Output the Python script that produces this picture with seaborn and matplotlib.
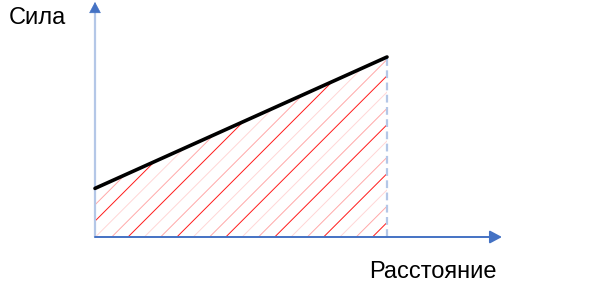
import numpy as np
import matplotlib
matplotlib.use("Agg")
import matplotlib.pyplot as plt
from matplotlib.patches import Polygon
import seaborn as sns

# ---- data ----
distance = [0, 10]
force = [2.7, 10]
x_label = "Расстояние"
y_label = "Сила"

sns.set_style("white")
plt.rcParams['font.family'] = ['Liberation Sans', 'DejaVu Sans']

W, H = 605, 302
fig = plt.figure(figsize=(W / 100, H / 100), dpi=100)
ax = fig.add_axes([0, 0, 1, 1])

# pixel geometry of the frame
ox, oy = 95, 237           # origin in pixels (from top-left)
sx, sy = 29.2, 18.0        # pixels per data unit
ax.set_xlim(-ox / sx, (W - ox) / sx)
ax.set_ylim((oy - H) / sy, oy / sy)
ax.axis('off')

# ---- hatched area under the force line ----
poly = Polygon([(distance[0], 0), (distance[0], force[0]),
                (distance[-1], force[-1]), (distance[-1], 0)],
               closed=True, facecolor='none', edgecolor='none')
ax.add_patch(poly)
spacing = 16.3
colors = ['#FF1A1A', '#FFD6D6', '#FFA8A8']
v = np.array([0.0, 260.0])
for k in range(-14, 22):
    c = 33 + spacing * k
    u = c + v
    ln, = ax.plot(u / sx, v / sy, color=colors[k % 3], lw=0.7,
                  solid_capstyle='butt', zorder=1)
    ln.set_clip_path(poly)

# ---- axes with arrows ----
axis_blue = '#4472C4'
light_blue = '#B4C7E7'
y_tip = (oy - 2) / sy
x_tip = (502 - ox) / sx
ax.plot([0, 0], [0, y_tip - 8 / sy], color=light_blue, lw=1.6, zorder=2)
ax.annotate("", xy=(0, y_tip), xytext=(0, y_tip - 10 / sy),
            arrowprops=dict(arrowstyle='-|>,head_length=0.6,head_width=0.32',
                            color=axis_blue, lw=0.5, mutation_scale=12,
                            shrinkA=0, shrinkB=0), zorder=3)
ax.annotate("", xy=(x_tip, 0), xytext=(0, 0),
            arrowprops=dict(arrowstyle='-|>,head_length=0.6,head_width=0.32',
                            color=axis_blue, lw=1.4, mutation_scale=12,
                            shrinkA=0, shrinkB=0), zorder=3)

# dashed end line
ax.plot([distance[-1], distance[-1]], [0, force[-1]], color=light_blue,
        lw=1.6, ls=(0, (3.5, 2)), zorder=2)

# force line
sns.lineplot(x=distance, y=force, ax=ax, color='black', linewidth=2.6,
             zorder=4)

# labels
ax.text((9 - ox) / sx, (oy - 18.5) / sy, y_label, fontsize=17,
        ha='left', va='center', color='black')
ax.text((369 - ox) / sx, (oy - 272) / sy, x_label, fontsize=17,
        ha='left', va='center', color='black')

fig.savefig("out.png", dpi=100)
